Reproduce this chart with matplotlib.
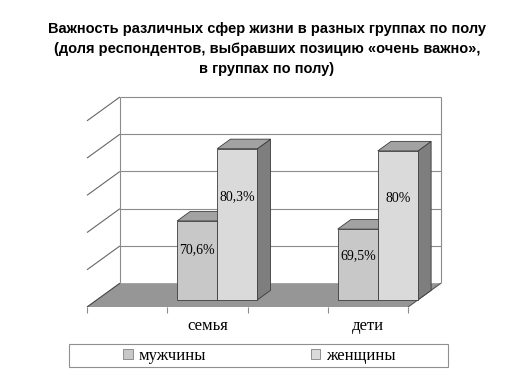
import matplotlib
matplotlib.use("Agg")
import matplotlib.pyplot as plt
from matplotlib.patches import Polygon, Rectangle, Patch

# data
categories = ["семья", "дети"]
series = ["мужчины", "женщины"]
men = [70.6, 69.5]
women = [80.3, 80.0]
value_labels = [["70,6%", "69,5%"], ["80,3%", "80%"]]

title = ("Важность различных сфер жизни в разных группах по полу\n"
         "(доля респондентов, выбравших позицию «очень важно»,\n"
         "в группах по полу)")

# fake-3D geometry (oblique projection in data units)
Y_MIN, Y_MAX, Y_STEP = 60, 85, 5
N_SLOTS = 4
DX, DY = 0.41, 3.2            # wall depth offset
Z0, Z1 = 0.3, 0.7             # bar depth range as fraction of wall depth
front_colors = ["#c8c8c8", "#dadada"]
top_color, side_color, edge_color = "#a2a2a2", "#7e7e7e", "#3c3c3c"
floor_color, grid_color, wall_edge = "#969696", "#8c8c8c", "#666666"

fig = plt.figure(figsize=(5.32, 3.8), dpi=100)
ax = fig.add_axes([87 / 532, 73 / 380, 354 / 532, 210 / 380])
ax.set_xlim(0, N_SLOTS + DX)
ax.set_ylim(Y_MIN, Y_MAX + DY)
for s in ax.spines.values():
    s.set_visible(False)


def line(xs, ys, color=grid_color, lw=0.8, z=1):
    ax.plot(xs, ys, color=color, lw=lw, zorder=z, clip_on=False, solid_capstyle="butt")


# floor
ax.add_patch(Polygon([(0, Y_MIN), (N_SLOTS, Y_MIN), (N_SLOTS + DX, Y_MIN + DY), (DX, Y_MIN + DY)],
                     closed=True, facecolor=floor_color, edgecolor="none", zorder=0, clip_on=False))
line([N_SLOTS, N_SLOTS + DX], [Y_MIN, Y_MIN + DY], color="#555555", lw=0.8)

# walls: back gridlines, left-wall diagonals, wall edges
levels = range(Y_MIN, Y_MAX + 1, Y_STEP)
for v in levels:
    if v > Y_MIN:
        line([DX, N_SLOTS + DX], [v + DY, v + DY])
    line([0, DX], [v, v + DY], color="#444444" if v == Y_MIN else wall_edge)
line([DX, DX], [Y_MIN + DY, Y_MAX + DY])
line([N_SLOTS + DX, N_SLOTS + DX], [Y_MIN + DY, Y_MAX + DY])

# bars
z = 2
for i, cat in enumerate(categories):
    slot = 2 * i + 1
    for j, vals in enumerate([men, women]):
        v = vals[i]
        x0 = slot + 0.5 * j
        x1 = x0 + 0.5
        ox0, oy0 = Z0 * DX, Z0 * DY
        ox1, oy1 = Z1 * DX, Z1 * DY
        front = [(x0 + ox0, Y_MIN + oy0), (x1 + ox0, Y_MIN + oy0), (x1 + ox0, v + oy0), (x0 + ox0, v + oy0)]
        top = [(x0 + ox0, v + oy0), (x1 + ox0, v + oy0), (x1 + ox1, v + oy1), (x0 + ox1, v + oy1)]
        side = [(x1 + ox0, Y_MIN + oy0), (x1 + ox1, Y_MIN + oy1), (x1 + ox1, v + oy1), (x1 + ox0, v + oy0)]
        for pts, fc in [(side, side_color), (top, top_color), (front, front_colors[j])]:
            ax.add_patch(Polygon(pts, closed=True, facecolor=fc, edgecolor=edge_color,
                                 lw=0.6, zorder=z, clip_on=False))
        ax.text((x0 + x1) / 2 + ox0, Y_MIN + (v - Y_MIN) * 0.73, value_labels[j][i],
                ha="center", va="center", fontsize=10, family="Liberation Serif", zorder=z + 1)
        z += 2

# category axis
ax.set_yticks([])
ax.set_xticks(range(N_SLOTS + 1))
ax.set_xticklabels([])
ax.tick_params(axis="x", which="major", length=4, width=0.8, color=grid_color)
ax.set_xticks([2 * i + 1.5 for i in range(len(categories))], minor=True)
ax.set_xticklabels(categories, minor=True, fontsize=12, family="Liberation Serif")
ax.tick_params(axis="x", which="minor", length=0, pad=8)

# title
fig.text(267 / 532, 1 - 49 / 380, title, ha="center", va="center", fontsize=10.5,
         fontweight="bold", family="Liberation Sans", linespacing=1.5)

# legend with a box spanning the plot width
handles = [Patch(facecolor=c, edgecolor="#808080", lw=0.6) for c in front_colors]
fig.legend(handles, series, loc="center", bbox_to_anchor=(259.5 / 532, 1 - 355.5 / 380), ncol=2,
           frameon=False, handlelength=0.55, handleheight=0.55, handletextpad=0.35,
           columnspacing=6.3, prop={"family": "Liberation Serif", "size": 12})
fig.add_artist(Rectangle((69 / 532, 1 - 367 / 380), 379 / 532, 23 / 380, transform=fig.transFigure,
                         fill=False, edgecolor="#909090", lw=0.8))

fig.savefig("out.png", dpi=100)
